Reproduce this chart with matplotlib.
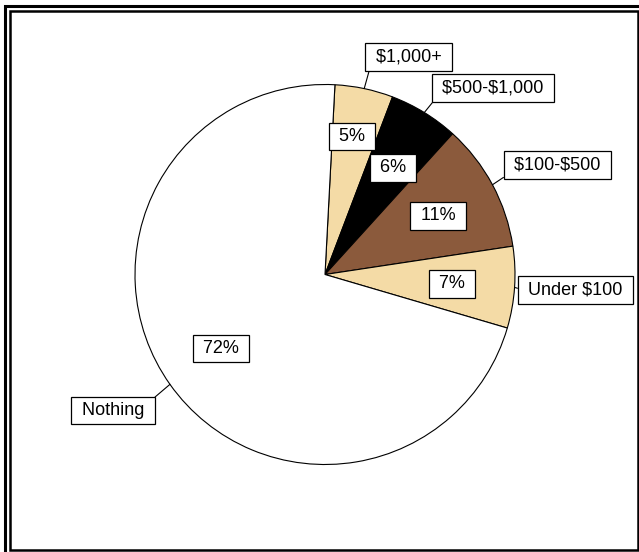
import numpy as np
import matplotlib.pyplot as plt
from matplotlib.patches import Rectangle

plt.rcParams['font.family'] = ['Liberation Sans', 'DejaVu Sans']
plt.rcParams['text.parse_math'] = False

# slice data (clockwise from the top)
categories = ["$1,000+", "$500-$1,000", "$100-$500", "Under $100", "Nothing"]
percents = [5, 6, 11, 7, 72]
colors = ["#F4DBA6", "#000000", "#8B5A3C", "#F4DBA6", "#FFFFFF"]

# layout: label centres in pixels of the 639x552 picture
W, H = 639, 552
cx, cy, R = 325, 274.5, 190
catPos = [(408.5, 57), (493, 88), (557.5, 165), (575.5, 290), (113, 410.5)]
catRel = [(0, 0), (0, 0), (0, 0), (0, 0.5), (1, 1)]
pctPos = [(352, 136.5), (393, 168), (438, 216), (452, 284), (221, 348.5)]

def toData(p):
    return ((p[0] - cx) / R, (cy - p[1]) / R)

fig = plt.figure(figsize=(W / 100, H / 100), dpi=100)
ax = fig.add_axes([0, 0, 1, 1])

wedges, _ = ax.pie(percents, colors=colors, startangle=87, counterclock=False,
                   radius=1, wedgeprops=dict(edgecolor="black", linewidth=0.8))
ax.set_aspect("auto")
ax.set_xlim(-cx / R, (W - cx) / R)
ax.set_ylim(-(H - cy) / R, cy / R)
ax.axis("off")

box = dict(boxstyle="square,pad=0.3", facecolor="white", edgecolor="black", linewidth=0.9)

for i, w in enumerate(wedges):
    mid = np.deg2rad((w.theta1 + w.theta2) / 2)
    rim = (np.cos(mid), np.sin(mid))
    ax.annotate(" " + categories[i] + " ", xy=rim, xytext=toData(catPos[i]),
                ha="center", va="center", fontsize=13, bbox=box,
                arrowprops=dict(arrowstyle="-", color="black", lw=0.8,
                                relpos=catRel[i], shrinkA=0, shrinkB=0))
    ax.text(*toData(pctPos[i]), " " + str(percents[i]) + "% ", ha="center", va="center",
            fontsize=13, bbox=box)

# double frame
fig.patches.append(Rectangle((4.5 / W, 1 - 560 / H), 650 / W, (560 - 6) / H, transform=fig.transFigure,
                             fill=False, edgecolor="black", linewidth=2.2))
fig.patches.append(Rectangle((10 / W, 1 - 550 / H), 628 / W, (550 - 11) / H, transform=fig.transFigure,
                             fill=False, edgecolor="black", linewidth=1.8))

fig.savefig("out.png", dpi=100)
